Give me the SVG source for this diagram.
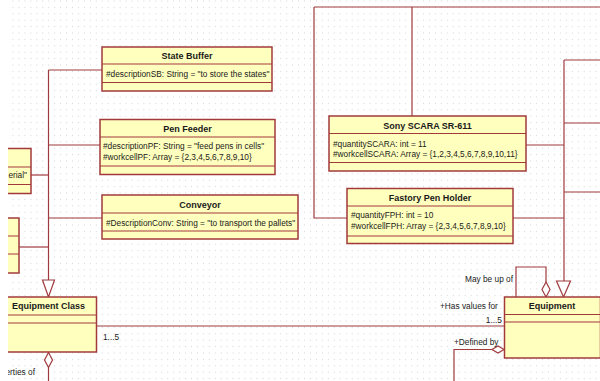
<svg xmlns="http://www.w3.org/2000/svg" width="600" height="381" viewBox="0 0 600 381">
  <defs>
    <pattern id="grid" x="12.5" y="0.5" width="5.95" height="6.4" patternUnits="userSpaceOnUse">
      <rect x="0" y="0" width="1" height="1" fill="#d4d4d4"/>
    </pattern>
    <clipPath id="canvas">
      <rect x="8" y="0" width="592" height="381"/>
    </clipPath>
    <style>
      .box { fill: #ffffbe; stroke: #a23a3c; stroke-width: 1.5; }
      .sep { stroke: #a23a3c; stroke-width: 1.2; fill: none; }
      .wire { stroke: #a03a3e; stroke-width: 1.2; fill: none; }
      .head { fill: #ffffff; stroke: #a03a3e; stroke-width: 1.2; }
      .title { font-family: "Liberation Sans", Arial, sans-serif; font-size: 9px; font-weight: bold; fill: #1a1a1a; text-anchor: middle; }
      .attr { font-family: "Liberation Sans", Arial, sans-serif; font-size: 8.3px; fill: #1a1a1a; }
      .lbl { font-family: "Liberation Sans", Arial, sans-serif; font-size: 8.3px; fill: #1a1a1a; }
    </style>
  </defs>

  <rect width="600" height="381" fill="#ffffff"/>
  <rect x="8" y="0" width="592" height="381" fill="url(#grid)"/>

  <g clip-path="url(#canvas)">
    <!-- connectors -->
    <g id="connectors">
      <!-- generalisation tree into Equipment Class -->
      <path class="wire" d="M48.5 70 V280"/>
      <path class="wire" d="M48.5 70 H102"/>
      <path class="wire" d="M48.5 145 H100"/>
      <path class="wire" d="M31 175 H48.5"/>
      <path class="wire" d="M48.5 218 H102"/>
      <path class="wire" d="M19 247 H48.5"/>
      <polygon class="head" points="48.5,297 42.5,280 54.5,280"/>
      <!-- aggregation below Equipment Class -->
      <polygon class="head" points="48.5,352.5 52.5,360 48.5,367.5 44.5,360"/>
      <path class="wire" d="M48.5 367.5 V381"/>
      <!-- Equipment Class to Equipment -->
      <path class="wire" d="M96 326 H504"/>
      <!-- top routing -->
      <path class="wire" d="M314 7 H600"/>
      <path class="wire" d="M314 7 V218 H347"/>
      <path class="wire" d="M412 7 V116"/>
      <!-- generalisation tree into Equipment -->
      <path class="wire" d="M564 60 V281"/>
      <path class="wire" d="M564 60 H600"/>
      <path class="wire" d="M564 123 H600"/>
      <path class="wire" d="M526 145 H564"/>
      <path class="wire" d="M564 192 H600"/>
      <path class="wire" d="M513 218 H564"/>
      <polygon class="head" points="563.5,297 556.5,281 570.5,281"/>
      <!-- self aggregation on Equipment -->
      <path class="wire" d="M516 297 V267 H546 V282"/>
      <polygon class="head" points="546,282 550,289.5 546,297 542,289.5"/>
      <!-- Defined by aggregation -->
      <polygon class="head" points="504,349.5 498,346 492,349.5 498,353"/>
      <path class="wire" d="M492 349.5 H454 V381"/>
    </g>

    <!-- partially visible classes on the left edge -->
    <g id="material-class">
      <rect class="box" x="-80" y="148.5" width="111" height="45"/>
      <path class="sep" d="M-80 167 H31 M-80 184.5 H31"/>
      <text class="attr" x="27" y="178" text-anchor="end">erial"</text>
    </g>
    <g id="left-class">
      <rect class="box" x="-80" y="218" width="99" height="55"/>
      <path class="sep" d="M-80 236 H19 M-80 254 H19"/>
    </g>

    <g id="state-buffer">
      <rect class="box" x="102" y="47" width="170" height="44"/>
      <path class="sep" d="M102 64 H272 M102 82.5 H272"/>
      <text class="title" x="187" y="58.5">State Buffer</text>
      <text class="attr" x="106" y="76.5">#descriptionSB: String = "to store the states"</text>
    </g>

    <g id="pen-feeder">
      <rect class="box" x="100" y="119.5" width="175" height="55"/>
      <path class="sep" d="M100 137 H275 M100 166 H275"/>
      <text class="title" x="187.5" y="131.5">Pen Feeder</text>
      <text class="attr" x="103" y="149">#descriptionPF: String = "feed pens in cells"</text>
      <text class="attr" x="103" y="159.5">#workcellPF: Array = {2,3,4,5,6,7,8,9,10}</text>
    </g>

    <g id="conveyor">
      <rect class="box" x="102" y="195" width="196" height="44"/>
      <path class="sep" d="M102 213 H298 M102 231 H298"/>
      <text class="title" x="200" y="207.5">Conveyor</text>
      <text class="attr" x="106" y="225.5">#DescriptionConv: String = "to transport the pallets"</text>
    </g>

    <g id="sony-scara">
      <rect class="box" x="329" y="116" width="197" height="55"/>
      <path class="sep" d="M329 133.5 H526 M329 162.5 H526"/>
      <text class="title" x="427.5" y="128.5">Sony SCARA SR-611</text>
      <text class="attr" x="333" y="146.5">#quantitySCARA: int = 11</text>
      <text class="attr" x="333" y="157">#workcellSCARA: Array = {1,2,3,4,5,6,7,8,9,10,11}</text>
    </g>

    <g id="fastory-pen-holder">
      <rect class="box" x="347" y="188.5" width="166" height="55"/>
      <path class="sep" d="M347 206 H513 M347 236 H513"/>
      <text class="title" x="430" y="200.5">Fastory Pen Holder</text>
      <text class="attr" x="351" y="217.5">#quantityFPH: int = 10</text>
      <text class="attr" x="351" y="229">#workcellFPH: Array = {2,3,4,5,6,7,8,9,10}</text>
    </g>

    <g id="equipment-class">
      <rect class="box" x="0.5" y="297" width="96" height="55"/>
      <path class="sep" d="M0.5 315 H96.5 M0.5 323 H96.5"/>
      <text class="title" x="48.5" y="309">Equipment Class</text>
    </g>

    <g id="equipment">
      <rect class="box" x="504.5" y="297" width="96" height="61"/>
      <path class="sep" d="M504.5 314.5 H600.5 M504.5 322 H600.5"/>
      <text class="title" x="552" y="309">Equipment</text>
    </g>

    <!-- association labels -->
    <g id="labels">
      <text class="lbl" x="103" y="340">1...5</text>
      <text class="lbl" x="35" y="374.5" text-anchor="end">erties of</text>
      <text class="lbl" x="513" y="282" text-anchor="end">May be up of</text>
      <text class="lbl" x="440" y="309">+Has values for</text>
      <text class="lbl" x="502" y="323" text-anchor="end">1...5</text>
      <text class="lbl" x="454" y="345">+Defined by</text>
    </g>
  </g>
</svg>
